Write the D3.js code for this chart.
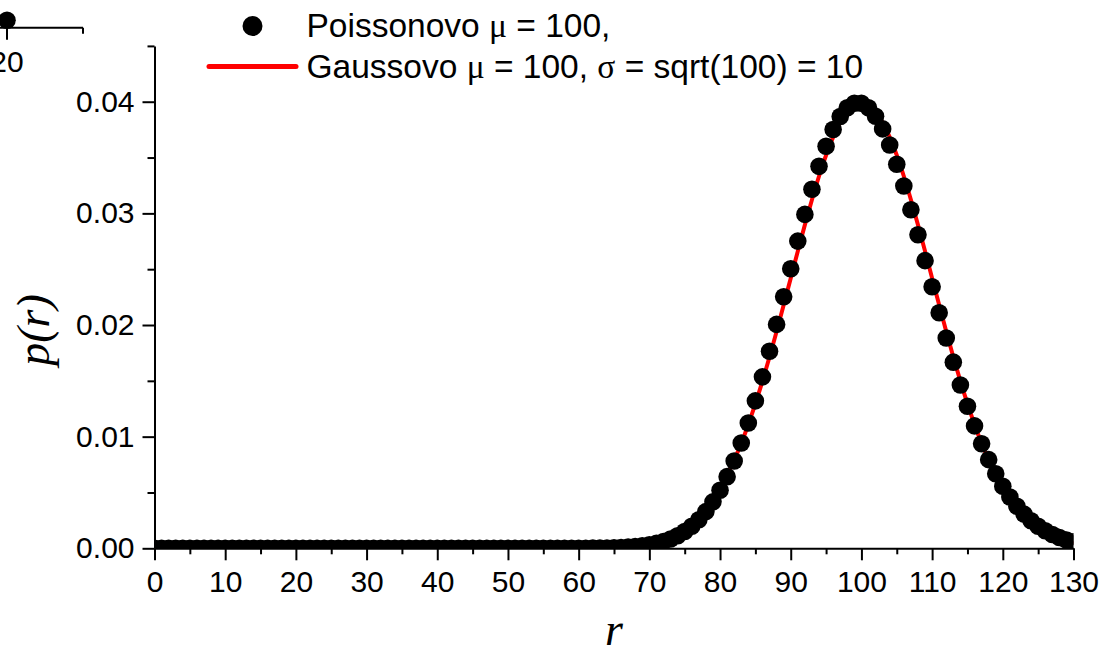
<!DOCTYPE html>
<html>
<head>
<meta charset="utf-8">
<script src="https://cdn.jsdelivr.net/npm/d3@7"></script>
<style>
  html, body { margin: 0; padding: 0; background: #fff; }
  svg { display: block; }
</style>
</head>
<body>
<svg id="chart" width="1104" height="656"></svg>
<script>
// r = 0 .. 130
const rValues = d3.range(0, 131);

// Poisson distribution, mean 100
const poisson = [
  0, 0, 0, 0, 0, 0, 0, 0, 0, 0,
  0, 0, 0, 0, 0, 0, 0, 0, 0, 0,
  0, 0, 0, 0, 0, 0, 0, 0, 0, 0,
  0, 0, 0, 0, 0, 0, 0, 0, 0, 0,
  0, 0, 0, 0, 0, 0, 0, 0, 0, 0,
  0, 0, 0, 0.0000001, 0.0000002, 0.0000003, 0.0000005, 0.0000009, 0.0000016, 0.0000027,
  0.0000045, 0.0000073, 0.0000118, 0.0000188, 0.0000293, 0.0000451, 0.0000683, 0.0001020, 0.0001500, 0.0002174,
  0.0003106, 0.0004374, 0.0006075, 0.0008322, 0.0011246, 0.0014995, 0.0019730, 0.0025623, 0.0032850, 0.0041583,
  0.0051978, 0.0064171, 0.0078257, 0.0094286, 0.0112245, 0.0132053, 0.0153550, 0.0176494, 0.0200562, 0.0225350,
  0.0250389, 0.0275153, 0.0299080, 0.0321591, 0.0342118, 0.0360124, 0.0375129, 0.0386731, 0.0394624, 0.0398610,
  0.0398610, 0.0394663, 0.0386925, 0.0375655, 0.0361207, 0.0344007, 0.0324535, 0.0303304, 0.0280837, 0.0257649,
  0.0234226, 0.0211014, 0.0188405, 0.0166730, 0.0146254, 0.0127177, 0.0109635, 0.0093705, 0.0079411, 0.0066732,
  0.0055610, 0.0045959, 0.0037671, 0.0030627, 0.0024699, 0.0019759, 0.0015682, 0.0012348, 0.0009647, 0.0007478,
  0.0005752
];

// Gaussian distribution, mean 100, sigma 10
const gauss = [
  0, 0, 0, 0, 0, 0, 0, 0, 0, 0,
  0, 0, 0, 0, 0, 0, 0, 0, 0, 0,
  0, 0, 0, 0, 0, 0, 0, 0, 0, 0,
  0, 0, 0, 0, 0, 0, 0, 0, 0, 0,
  0, 0, 0, 0, 0, 0, 0, 0, 0, 0,
  0.0000001, 0.0000002, 0.0000004, 0.0000006, 0.0000010, 0.0000016, 0.0000025, 0.0000038, 0.0000059, 0.0000089,
  0.0000134, 0.0000199, 0.0000292, 0.0000425, 0.0000612, 0.0000873, 0.000123, 0.000172, 0.000238, 0.000327,
  0.000443, 0.000595, 0.000792, 0.001042, 0.001358, 0.001753, 0.002239, 0.002833, 0.003547, 0.004398,
  0.005399, 0.006562, 0.007895, 0.009405, 0.011092, 0.012952, 0.014973, 0.017137, 0.019419, 0.021785,
  0.024197, 0.026608, 0.028969, 0.031225, 0.033323, 0.035207, 0.036827, 0.038139, 0.039104, 0.039695,
  0.039894, 0.039695, 0.039104, 0.038139, 0.036827, 0.035207, 0.033323, 0.031225, 0.028969, 0.026608,
  0.024197, 0.021785, 0.019419, 0.017137, 0.014973, 0.012952, 0.011092, 0.009405, 0.007895, 0.006562,
  0.005399, 0.004398, 0.003547, 0.002833, 0.002239, 0.001753, 0.001358, 0.001042, 0.000792, 0.000595,
  0.000443
];

// Axis ticks
const xMajorTicks = [0, 10, 20, 30, 40, 50, 60, 70, 80, 90, 100, 110, 120, 130];
const xMinorTicks = [5, 15, 25, 35, 45, 55, 65, 75, 85, 95, 105, 115, 125];
const yMajorTicks = [0.00, 0.01, 0.02, 0.03, 0.04];
const yMinorTicks = [0.005, 0.015, 0.025, 0.035, 0.045];

// Legend entries
const legendPoisson = ["Poissonovo ", "\u03bc", " = 100,"];
const legendGauss = ["Gaussovo ", "\u03bc", " = 100, ", "\u03c3", " = sqrt(100) = 10"];

// Stray axis fragment at the top-left corner
const fragMajor = [20];
const fragMinor = [25];
const fragPoint = [20];

const svg = d3.select("#chart");
const sansFont = "'Liberation Sans', Arial, sans-serif";
const serifFont = "'Liberation Serif', 'Times New Roman', serif";

const plot = { left: 154.5, right: 1073.5, top: 45.9, bottom: 548.3 };

const x = d3.scaleLinear().domain([0, 130]).range([plot.left, plot.right]);
const y = d3.scaleLinear().domain([0, 0.045]).range([plot.bottom, plot.top]);

svg.append("defs").append("clipPath").attr("id", "plot-clip")
  .append("rect")
  .attr("x", plot.left).attr("y", plot.top)
  .attr("width", plot.right - plot.left).attr("height", plot.bottom - plot.top);

// Gaussian curve
const line = d3.line()
  .x((d, i) => x(rValues[i]))
  .y(d => y(d))
  .curve(d3.curveMonotoneX);

const marks = svg.append("g").attr("clip-path", "url(#plot-clip)");
marks.append("path")
  .datum(gauss)
  .attr("d", line)
  .attr("fill", "none")
  .attr("stroke", "#ff0000")
  .attr("stroke-width", 4)
  .attr("stroke-linejoin", "round");

// Poisson points
marks.selectAll("circle")
  .data(poisson)
  .join("circle")
  .attr("cx", (d, i) => x(rValues[i]))
  .attr("cy", d => y(d))
  .attr("r", 8.8)
  .attr("fill", "#000");

// Axes
function styleAxis(g) {
  g.selectAll("path").attr("stroke", "#000").attr("stroke-width", 2);
  g.selectAll("line").attr("stroke", "#000").attr("stroke-width", 2);
  g.selectAll("text").attr("fill", "#000")
    .style("font-family", sansFont).style("font-size", "30px");
}

const xAxis = svg.append("g")
  .attr("transform", `translate(0,${plot.bottom})`)
  .call(d3.axisBottom(x).tickValues(xMajorTicks).tickSize(12).tickPadding(10).tickSizeOuter(0)
    .tickFormat(d3.format("d")));
styleAxis(xAxis);

const xMinor = svg.append("g")
  .attr("transform", `translate(0,${plot.bottom})`)
  .call(d3.axisBottom(x).tickValues(xMinorTicks).tickSize(6).tickFormat(""));
xMinor.select("path").remove();
styleAxis(xMinor);

const yAxis = svg.append("g")
  .attr("transform", `translate(${plot.left},0)`)
  .call(d3.axisLeft(y).tickValues(yMajorTicks).tickSize(12).tickPadding(8).tickSizeOuter(0)
    .tickFormat(d3.format(".2f")));
styleAxis(yAxis);

const yMinor = svg.append("g")
  .attr("transform", `translate(${plot.left},0)`)
  .call(d3.axisLeft(y).tickValues(yMinorTicks).tickSize(7).tickFormat(""));
yMinor.select("path").remove();
styleAxis(yMinor);

// Axis titles
svg.append("text")
  .attr("transform", "translate(49,330) rotate(-90)")
  .attr("text-anchor", "middle")
  .style("font-family", serifFont)
  .style("font-style", "italic")
  .style("font-size", "46px")
  .text("p(r)");

svg.append("text")
  .attr("x", 614).attr("y", 645)
  .attr("text-anchor", "middle")
  .style("font-family", serifFont)
  .style("font-style", "italic")
  .style("font-size", "46px")
  .text("r");

// Legend
const legend = svg.append("g");
legend.append("circle").attr("cx", 252.5).attr("cy", 26).attr("r", 10).attr("fill", "#000");
legend.append("line")
  .attr("x1", 209).attr("x2", 296).attr("y1", 66.5).attr("y2", 66.5)
  .attr("stroke", "#ff0000").attr("stroke-width", 5).attr("stroke-linecap", "round");

function legendText(parts, yBase) {
  const t = legend.append("text")
    .attr("x", 306.5).attr("y", yBase)
    .style("font-family", sansFont).style("font-size", "33.5px")
    .attr("xml:space", "preserve");
  parts.forEach(p => {
    const greek = p === "\u03bc" || p === "\u03c3";
    t.append("tspan")
      .style("font-family", greek ? serifFont : sansFont)
      .text(p);
  });
}
legendText(legendPoisson, 37);
legendText(legendGauss, 77.5);

// Axis fragment at top-left
const fx = d3.scaleLinear().domain([20, 25]).range([7, 83]);
const fragY = 27.7;
const frag = svg.append("g");
frag.append("line")
  .attr("x1", fx(15)).attr("x2", fx(25)).attr("y1", fragY).attr("y2", fragY)
  .attr("stroke", "#000").attr("stroke-width", 2);
frag.selectAll(".fmaj").data(fragMajor).join("line")
  .attr("x1", d => fx(d)).attr("x2", d => fx(d))
  .attr("y1", fragY).attr("y2", fragY + 12)
  .attr("stroke", "#000").attr("stroke-width", 2);
frag.selectAll(".fmin").data(fragMinor).join("line")
  .attr("x1", d => fx(d)).attr("x2", d => fx(d))
  .attr("y1", fragY).attr("y2", fragY + 6)
  .attr("stroke", "#000").attr("stroke-width", 2);
frag.selectAll("text").data(fragMajor).join("text")
  .attr("x", d => fx(d)).attr("y", fragY + 44)
  .attr("text-anchor", "middle")
  .style("font-family", sansFont).style("font-size", "30px")
  .text(d => d);
frag.selectAll("circle").data(fragPoint).join("circle")
  .attr("cx", d => fx(d)).attr("cy", fragY - 7.5)
  .attr("r", 8.8).attr("fill", "#000");
</script>
</body>
</html>
